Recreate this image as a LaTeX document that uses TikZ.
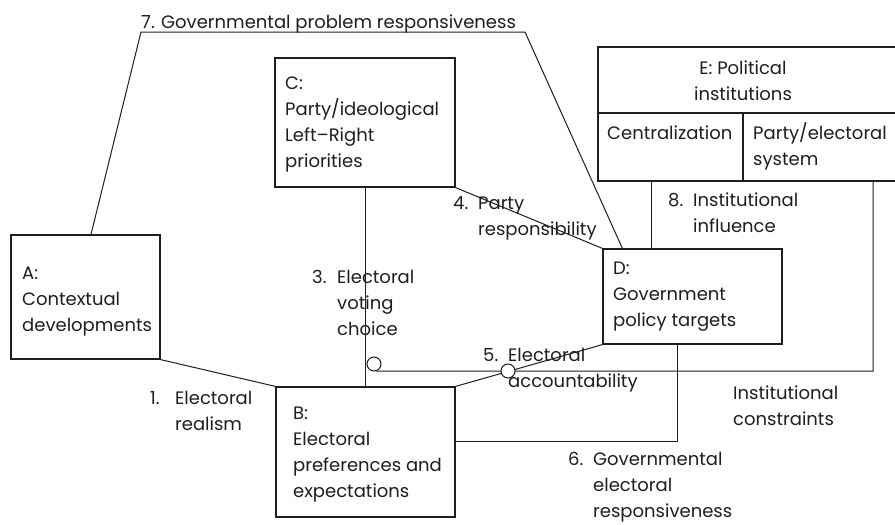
\documentclass[tikz,border=0pt]{standalone}
\usepackage{fontspec}
\setmainfont{Poppins}
\usetikzlibrary{calc}
\definecolor{ink}{HTML}{1E1E1E}
\newcommand\lines[1]{\begin{tabular}[t]{@{}l@{}}#1\end{tabular}}
\newcommand\numbered[2]{\begin{tabular}[t]{@{}p{25pt}@{}l@{}}#1&#2\end{tabular}}
\tikzset{
  every node/.style={font=\fontsize{18}{26}\selectfont, text=ink},
  box/.style={draw=ink, line width=1.2pt, rectangle, inner sep=0pt},
  txt/.style={anchor=base west, inner sep=0pt},
  link/.style={draw=ink, line width=1pt},
  knot/.style={circle, draw=ink, line width=1pt, fill=white, minimum size=14pt, inner sep=0pt}
}
\begin{document}
\begin{tikzpicture}[x=1pt,y=-1pt]
\useasboundingbox[fill=white] (0,0) rectangle (895,525);

% factor boxes
\node[box, minimum width=149pt, minimum height=124pt] (A) at (85.5,297) {};
\node[box, minimum width=179pt, minimum height=130pt] (B) at (365.5,452) {};
\node[box, minimum width=180pt, minimum height=129pt] (C) at (365,122.5) {};
\node[box, minimum width=179pt, minimum height=95pt] (D) at (692.5,296.5) {};
\node[box, minimum width=302pt, minimum height=66pt] (Etop) at (749,80) {};
\node[box, minimum width=145pt, minimum height=68pt] (Ecent) at (670.5,147) {};
\node[box, minimum width=157pt, minimum height=68pt] (Eparty) at (821.5,147) {};

% box texts
\node[txt] (At) at (22,279) {\lines{A:\\Contextual\\developments}};
\node[txt] (Bt) at (293,419) {\lines{B:\\Electoral\\preferences and\\expectations}};
\node[txt] (Ct) at (285,89) {\lines{C:\\Party/ideological\\Left--Right\\priorities}};
\node[txt] (Dt) at (613,274) {\lines{D:\\Government\\policy targets}};
\node[anchor=base, inner sep=0pt] (Et) at (743,74) {\begin{tabular}[t]{@{}c@{}}E: Political\\institutions\end{tabular}};
\node[txt] (Ecentt) at (607,139) {Centralization};
\node[txt] (Epartyt) at (753,139) {\lines{Party/electoral\\system}};

% relation coordinates
\coordinate (t7a) at (141,32);
\coordinate (t7b) at (525,32);
\coordinate (icc) at (873,181);
\coordinate (icb) at (873,371);

% relations
\draw[link] ([xshift=5.5pt]A.north) -- (t7a) -- (t7b) -- ([xshift=20pt]D.north west);
\draw[link] (A.south east) -- (B.north west);
\draw[link] (C.south) -- (C.south |- B.north);
\draw[link] (C.south east) -- (D.north west);
\draw[link] (B.north east) -- (D.south west);
\draw[link] ([yshift=11pt]B.east) -| ([xshift=-15.5pt]D.south);
\draw[link] ([xshift=-19.5pt]Ecent.south) -- ([xshift=-19.5pt]Ecent.south |- D.north);
\node[knot] (k1) at (374,364) {};
\draw[link] (icc) -- (icb) -- (k1.-70);
\node[knot] (k2) at (508,371) {};

% relation labels
\node[txt] (l7) at (141,28) {7. Governmental problem responsiveness};
\node[txt] (l1) at (150,404) {\numbered{1.}{Electoral\\&realism}};
\node[txt] (l3) at (312,283) {\numbered{3.}{Electoral\\&voting\\&choice}};
\node[txt] (l4) at (453,209) {\numbered{4.}{Party\\&responsibility}};
\node[txt] (l5) at (483,361) {\numbered{5.}{Electoral\\&accountability}};
\node[txt] (l6) at (568,465) {\numbered{6.}{Governmental\\&electoral\\&responsiveness}};
\node[txt] (l8) at (668,206) {\numbered{8.}{Institutional\\&influence}};
\node[txt] (lic) at (733,399) {\lines{Institutional\\constraints}};
\end{tikzpicture}
\end{document}
